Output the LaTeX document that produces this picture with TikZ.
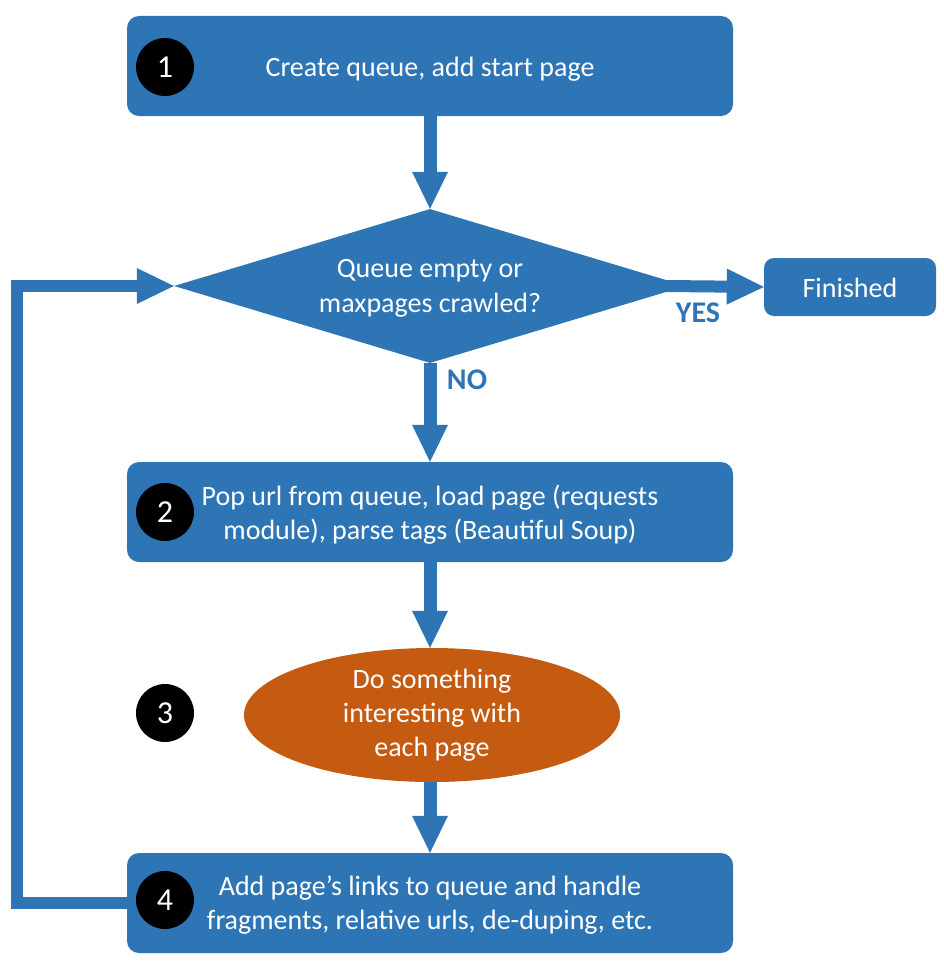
\documentclass[tikz,border=0pt]{standalone}
\usepackage{fontspec}
\setmainfont{Carlito}
\usetikzlibrary{arrows.meta,shapes.geometric}
\definecolor{cblue}{HTML}{2E75B6}
\definecolor{corange}{HTML}{C55A11}
\tikzset{
  stepbox/.style={rectangle, rounded corners=12pt, fill=cblue, text=white,
    minimum width=606pt, minimum height=100pt, align=center, text depth=0pt,
    font=\fontsize{28}{34}\selectfont},
  oneline/.style={text height=26pt, text depth=6pt},
  badge/.style={ellipse, fill=black, text=white, minimum width=58pt,
    minimum height=58pt, inner sep=0pt, font=\fontsize{32}{32}\selectfont},
  flow/.style={draw=cblue, line width=13pt, line join=miter,
    -{Triangle[width=36pt,length=37pt,line width=0pt]}},
  answer/.style={text=cblue, font=\bfseries\fontsize{30}{30}\selectfont}
}

\begin{document}
\begin{tikzpicture}[x=1pt,y=-1pt]
\useasboundingbox (0,0) rectangle (944,966);
% steps
\node[stepbox, oneline] (b1) at (430,66) {Create queue, add start page};
\node[diamond, fill=cblue, text=white, minimum width=512pt, minimum height=154pt,
  aspect=3.3, inner sep=0pt, align=center, text depth=0pt,
  font=\fontsize{28}{35}\selectfont]
  (dq) at (430,286) {Queue empty or\\maxpages crawled?};
\node[stepbox, oneline, rounded corners=10pt, minimum width=172pt, minimum height=58pt]
  (fin) at (850,287) {Finished};
\node[stepbox] (b2) at (430,512) {Pop url from queue, load page (requests\\module), parse tags (Beautiful Soup)};
\node[ellipse, fill=corange, text=white, minimum width=376pt, minimum height=134pt,
  inner sep=0pt, align=center, font=\fontsize{28}{34}\selectfont]
  (e3) at (432,715) {Do something\\interesting with\\each page};
\node[stepbox] (b4) at (430,903) {Add page’s links to queue and handle\\fragments, relative urls, de-duping, etc.};
% numbers
\node[badge] (c1) at (165,67) {1};
\node[badge] (c2) at (165,512) {2};
\node[badge] (c3) at (165,713) {3};
\node[badge] (c4) at (165,900) {4};
% connectors
\draw[flow] (b1) -- (dq);
\draw[flow] (dq) -- (b2);
\draw[flow] (b2) -- (b2 |- e3.north);
\draw[flow] (b4 |- e3.south) -- (b4);
\draw[flow, line width=12pt] ([xshift=-20pt]dq.east) -- (fin.west);
\draw[flow, line width=12pt] (b4.west) -- ++(-110,0) |- (dq.west);
% answers
\node[answer] (yes) at (698,313) {YES};
\node[answer] (no) at (467,380) {NO};
\end{tikzpicture}
\end{document}
